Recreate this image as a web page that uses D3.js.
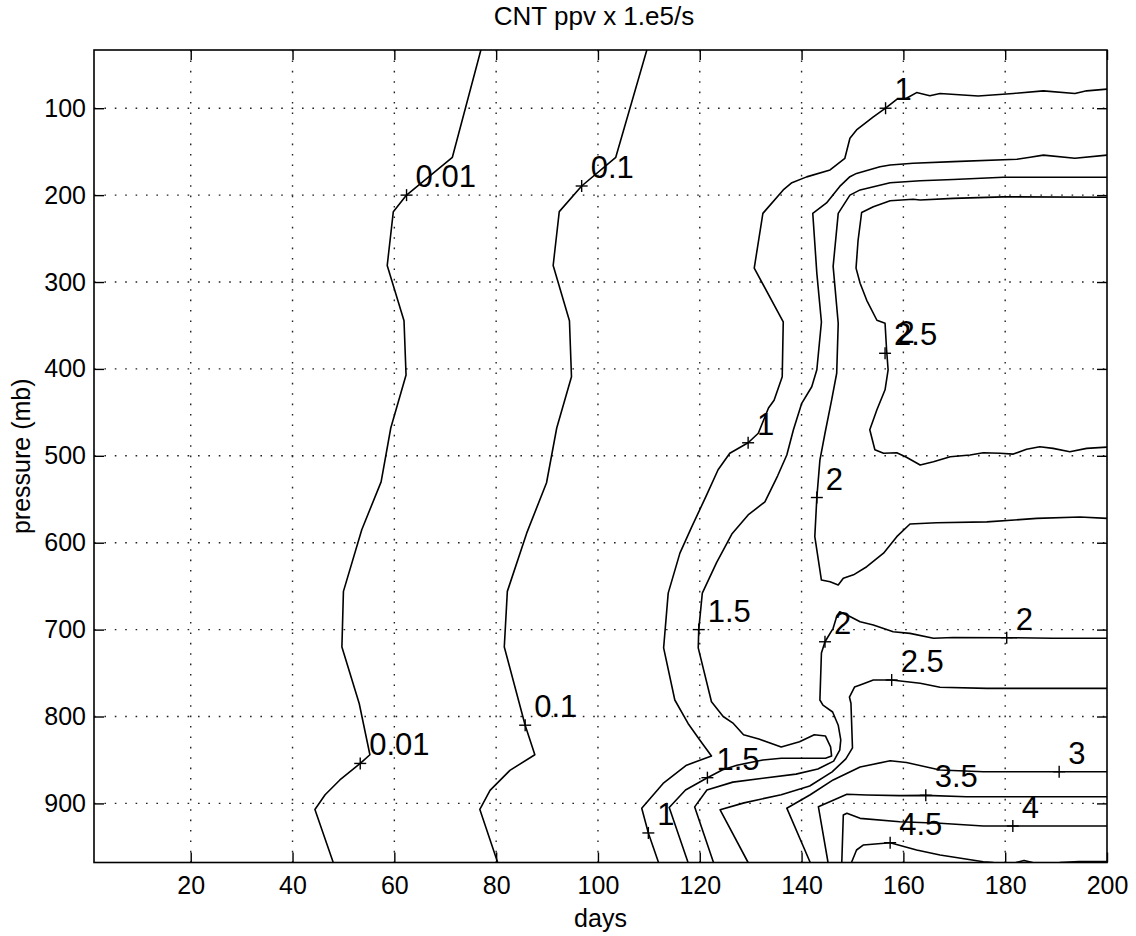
<!DOCTYPE html>
<html>
<head>
<meta charset="utf-8">
<script src="https://cdn.jsdelivr.net/npm/d3@7/dist/d3.min.js"></script>
<style>
  body { margin: 0; background: #fff; }
  svg { display: block; font-family: "Liberation Sans", Arial, Helvetica, sans-serif; }
</style>
</head>
<body>
<svg id="chart" width="1136" height="936"></svg>
<script>
// -----------------------------
//  DATA  (day, pressure in mb)
// -----------------------------
const xTicks = [20, 40, 60, 80, 100, 120, 140, 160, 180, 200];
const yTicks = [100, 200, 300, 400, 500, 600, 700, 800, 900];

const level001 = [[77.0,33],[71.4,156.5],[62.4,200],[59.8,219],[58.6,281],[61.9,344.5],[62.3,407],[59.3,468],[57.4,530],[53.6,585],[50.0,656],[49.7,720],[53.1,785],[55.2,844],[53.3,854],[49.3,873],[46.4,890],[44.4,907],[48.0,968]];

const level01 = [[109.6,33],[103.5,156.5],[96.8,189.5],[92.4,219],[91.2,281],[94.4,344.5],[94.8,409],[91.9,468],[89.9,531],[86.0,589],[82.2,656],[81.6,720],[85.7,810],[87.6,844],[82.7,862],[78.8,885],[76.8,907],[80.3,968]];

const level1 = [[200,78],[196.0,80],[193.7,83],[187.5,80],[181.6,83],[174.7,86],[167.2,83],[165.2,85.6],[162.6,82],[160.6,88.6],[158.7,89.7],[156.5,100],[154.1,110],[150.8,125],[149.5,134.6],[148.5,157.6],[145.6,171],[141.0,179],[138.1,185.7],[136.4,194],[132.4,221],[130.7,284],[136.4,346],[136.2,409],[134.6,436],[133.5,445],[131.5,474],[129.5,485],[125.9,497],[123.6,516],[121.2,547],[118.4,582],[116.1,612],[113.8,658],[112.9,721],[115.1,781],[117.7,808],[120.0,827],[122.3,845.5],[117.4,856],[112.8,877],[108.6,905.6],[109.9,934],[111.9,968]];

const level15 = [[200,154],[193.7,157.6],[187.5,154],[184.9,156.5],[182.3,158.8],[169.8,161.5],[161.9,163.4],[157.4,165.3],[155.4,167.3],[150.8,175],[149.5,178.8],[147.5,190],[144.9,209],[142.2,221],[143.0,290],[143.9,346],[143.0,401],[142.0,420.5],[140.0,440],[138.4,470],[137.1,499],[135.3,523],[132.8,553],[129.5,568],[126.3,590],[123.3,623],[120.5,658],[119.8,700],[119.7,721],[122.3,783],[124.6,800],[126.6,808],[128.6,821],[131.6,826],[136.0,835],[139.6,829],[142.5,821],[144.7,822.5],[145.7,835],[145.9,845.5],[144.7,848],[139.6,848],[136.0,848],[132.4,850],[127.3,856],[124.4,861.6],[121.5,870.4],[117.2,884.6],[114.0,904.7],[117.7,968]];

const level2Upper = [[200,179.5],[179.6,179.5],[169.8,182],[163.3,183.4],[157.4,185.7],[151.5,194],[149.5,200],[147.2,221],[146.2,282],[147.2,347.5],[146.9,405],[145.9,436],[144.6,474],[143.6,505],[143.0,548],[142.6,593],[143.3,620],[143.9,643],[145.6,645],[147.2,648.7],[148.2,641],[150.2,637],[152.8,627.6],[156.1,612],[158.7,593],[161.3,578.5],[166.5,577],[176.4,576],[186.2,572],[194.7,570.4],[200,572]];

const level25Upper = [[200,202.5],[179.6,202],[169.8,203.7],[163.3,205.6],[161.9,204.8],[157.4,206.4],[154.1,213.3],[151.8,220],[151.1,252],[150.7,284],[151.5,301.5],[152.8,321],[154.8,344],[156.4,347.5],[156.7,378],[157.0,401],[156.4,424],[154.8,447],[153.4,470],[154.4,493],[156.1,497],[158.7,496.4],[160.6,501.7],[163.3,510.6],[165.9,506.8],[169.2,501],[173.1,499],[175.7,496.4],[179.0,497],[181.6,498],[184.2,492.5],[186.8,489.5],[189.4,491.4],[192.7,495.3],[196.0,491.4],[200,490]];

const level2Lower = [[200,710],[189.4,710],[180.3,709.3],[169.8,709],[165.9,710],[161.3,704.3],[158.0,702.4],[154.1,694.7],[151.5,691],[149.5,685],[147.5,679.4],[146.9,685],[146.2,698.5],[144.6,714],[143.9,727],[143.6,781],[144.2,787],[146.1,794.8],[147.2,810],[147.7,827],[147.5,838.6],[146.3,851.3],[143.2,860.5],[138.9,866.3],[132.4,871],[126.5,875.5],[121.4,884.6],[119.0,904],[122.7,968]];

const level25Lower = [[200,767.6],[176.4,767.6],[167.2,766.4],[163.3,761.8],[157.7,758],[154.1,758],[151.5,763.8],[150.4,766.1],[149.4,777.6],[149.7,784.8],[150.0,836],[148.7,848.8],[146.0,863.7],[141.6,880],[136.0,890],[128.7,899.4],[124.0,907.4],[129.5,968]];

const level3 = [[141.7,968],[137.1,905.5],[141.7,890],[146.2,873],[151.5,858],[157.4,851],[160.6,853],[167.2,861.5],[175.7,863.5],[190.6,863.5],[200,863.5]];

const level35 = [[145.2,968],[143.3,903.8],[148.9,889.5],[152.8,890.3],[159.3,891],[164.4,890.7],[172.4,892.3],[200,892.3]];

const level4 = [[147.9,968],[148.2,913.4],[148.9,911.4],[151.5,917.2],[159.3,921.1],[167.2,922.9],[175.7,926],[181.5,926],[200,926]];

const level45 = [[149.8,968],[150.8,953.6],[152.1,947.9],[157.4,945.2],[162.6,953.6],[167.2,959.4],[175.7,967.1],[177.7,968]];

const level5a = [[182.1,968],[183.7,965.6],[185.4,968]];
const level5b = [[190.7,968],[194.5,966.8],[200,966.8]];

const contourLines = [level001, level01, level1, level15, level2Upper, level25Upper,
    level2Lower, level25Lower, level3, level35, level4, level45, level5a, level5b];

// label anchors: [day, pressure, text]
const labelMarks = [
    [62.4, 200, "0.01"], [53.3, 854, "0.01"],
    [96.8, 189.5, "0.1"], [85.7, 810, "0.1"],
    [156.5, 100, "1"], [129.5, 485, "1"], [109.9, 934, "1"],
    [119.8, 700, "1.5"], [121.5, 870.4, "1.5"],
    [143.0, 548, "2"], [144.6, 714, "2"], [180.3, 709.3, "2"],
    [156.4, 382, "2.5"], [157.7, 758, "2.5"],
    [190.6, 863.5, "3"], [164.4, 890.7, "3.5"], [181.5, 926, "4"], [157.4, 945.2, "4.5"]
];
// a clashing label drawn without its own marker
const overlapLabels = [[157.1, 379, "2"]];

// -----------------------------
//  SCALES
// -----------------------------
const svg = d3.select("#chart");
const plotLeft = 94, plotRight = 1107, plotTop = 50, plotBottom = 862.5;

const x = d3.scaleLinear().domain([1, 200]).range([plotLeft, plotRight]);
const y = d3.scaleLinear().domain([33, 968]).range([plotTop, plotBottom]);

svg.append("defs").append("clipPath").attr("id", "plot-clip")
    .append("rect")
    .attr("x", plotLeft).attr("y", plotTop)
    .attr("width", plotRight - plotLeft).attr("height", plotBottom - plotTop);

// -----------------------------
//  GRID
// -----------------------------
const grid = svg.append("g").attr("class", "grid")
    .attr("stroke", "#222").attr("stroke-width", 1.4)
    .attr("stroke-dasharray", "1.6,8.8");

grid.selectAll(".vgrid")
    .data(xTicks.filter((d) => d < 200))
    .enter().append("line")
    .attr("x1", (d) => x(d)).attr("x2", (d) => x(d))
    .attr("y1", plotTop).attr("y2", plotBottom);

grid.selectAll(".hgrid")
    .data(yTicks)
    .enter().append("line")
    .attr("x1", plotLeft).attr("x2", plotRight)
    .attr("y1", (d) => y(d)).attr("y2", (d) => y(d));

// -----------------------------
//  AXES
// -----------------------------
function styleAxis(g) {
    g.select(".domain").remove();
    g.selectAll(".tick line").attr("stroke", "#000").attr("stroke-width", 1.4);
    g.selectAll(".tick text").attr("fill", "#000").attr("font-size", "25px")
        .attr("font-family", "'Liberation Sans', Arial, Helvetica, sans-serif");
}

svg.append("g").attr("transform", `translate(0,${plotBottom})`)
    .call(d3.axisBottom(x).tickValues(xTicks).tickSize(-10).tickPadding(14))
    .call(styleAxis);

svg.append("g").attr("transform", `translate(0,${plotTop})`)
    .call(d3.axisTop(x).tickValues(xTicks).tickSize(-10).tickFormat(""))
    .call(styleAxis);

svg.append("g").attr("transform", `translate(${plotLeft},0)`)
    .call(d3.axisLeft(y).tickValues(yTicks).tickSize(-10).tickPadding(8))
    .call(styleAxis);

svg.append("g").attr("transform", `translate(${plotRight},0)`)
    .call(d3.axisRight(y).tickValues(yTicks).tickSize(-10).tickFormat(""))
    .call(styleAxis);

svg.append("rect")
    .attr("x", plotLeft).attr("y", plotTop)
    .attr("width", plotRight - plotLeft).attr("height", plotBottom - plotTop)
    .attr("fill", "none").attr("stroke", "#000").attr("stroke-width", 1.6);

// -----------------------------
//  CONTOURS
// -----------------------------
const line = d3.line().x((d) => x(d[0])).y((d) => y(d[1]));

svg.append("g").attr("clip-path", "url(#plot-clip)")
    .selectAll("path")
    .data(contourLines)
    .enter().append("path")
    .attr("d", line)
    .attr("fill", "none")
    .attr("stroke", "#000")
    .attr("stroke-width", 1.6)
    .attr("stroke-linejoin", "round");

// markers
const marks = svg.append("g").attr("stroke", "#000").attr("stroke-width", 1.4);
marks.selectAll(".mh").data(labelMarks).enter().append("line")
    .attr("x1", (d) => x(d[0]) - 6).attr("x2", (d) => x(d[0]) + 6)
    .attr("y1", (d) => y(d[1])).attr("y2", (d) => y(d[1]));
marks.selectAll(".mv").data(labelMarks).enter().append("line")
    .attr("x1", (d) => x(d[0])).attr("x2", (d) => x(d[0]))
    .attr("y1", (d) => y(d[1]) - 6).attr("y2", (d) => y(d[1]) + 6);

// labels
svg.append("g").selectAll("text")
    .data(labelMarks.concat(overlapLabels))
    .enter().append("text")
    .attr("x", (d) => x(d[0]) + 9)
    .attr("y", (d) => y(d[1]) - 8)
    .attr("font-size", "31px")
    .attr("fill", "#000")
    .text((d) => d[2]);

// -----------------------------
//  TITLES
// -----------------------------
svg.append("text")
    .attr("x", 594).attr("y", 25)
    .attr("text-anchor", "middle").attr("font-size", "26px")
    .text("CNT ppv x 1.e5/s");

svg.append("text")
    .attr("x", (plotLeft + plotRight) / 2).attr("y", 927)
    .attr("text-anchor", "middle").attr("font-size", "25px")
    .text("days");

svg.append("text")
    .attr("transform", `translate(30,${(plotTop + plotBottom) / 2}) rotate(-90)`)
    .attr("text-anchor", "middle").attr("font-size", "25px")
    .text("pressure (mb)");
</script>
</body>
</html>
